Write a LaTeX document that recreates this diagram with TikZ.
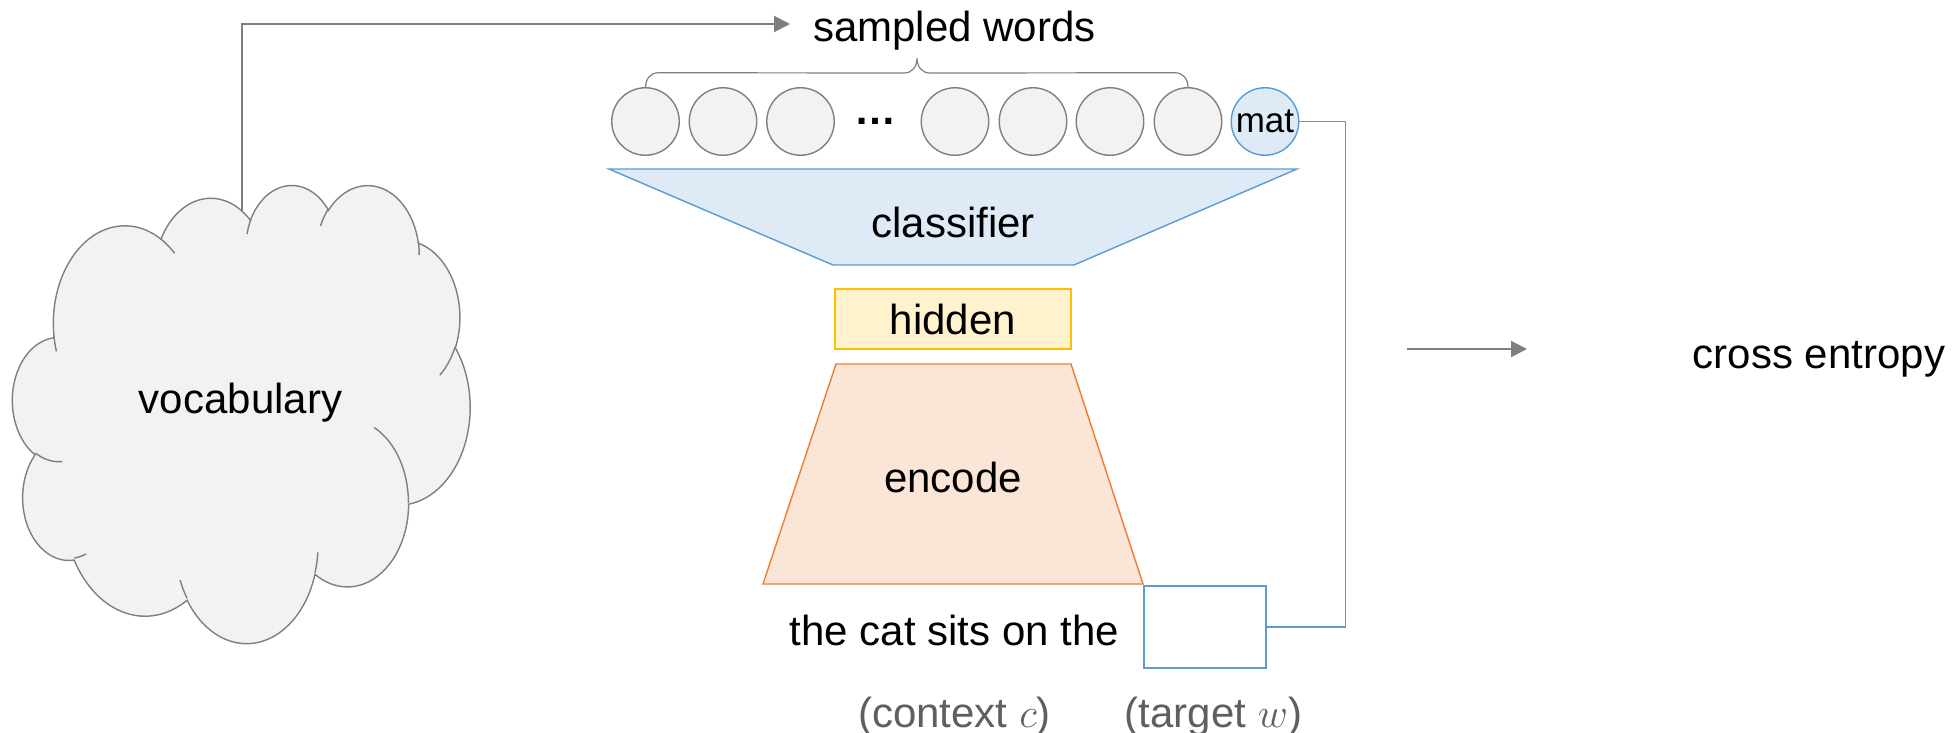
\documentclass[tikz,border=0pt]{standalone}
\usepackage{fontspec}
\setmainfont{Liberation Sans}
\usetikzlibrary{arrows.meta,calc}

\definecolor{linegray}{HTML}{7F7F7F}
\definecolor{shapefill}{HTML}{F2F2F2}
\definecolor{bluefill}{HTML}{DEEBF7}
\definecolor{blueline}{HTML}{5B9BD5}
\definecolor{yellowfill}{HTML}{FFF2CC}
\definecolor{yellowline}{HTML}{FFC000}
\definecolor{orangefill}{HTML}{FBE5D6}
\definecolor{orangeline}{HTML}{ED7D31}
\definecolor{notegray}{HTML}{5F5F5F}

% Cloud outline arcs are given by their visual start angle and sweep on an
% ellipse (wR, hR); convert them to the parametric angles that TikZ's arc uses.
% #1 name, #2 start angle, #3 sweep, #4 x radius, #5 y radius
\newcommand\setcloudarc[5]{%
  \pgfmathsetmacro\cloudts{atan2((#4)*sin(#2),(#5)*cos(#2))}%
  \pgfmathsetmacro\cloudte{atan2((#4)*sin((#2)+(#3)),(#5)*cos((#2)+(#3)))}%
  \pgfmathsetmacro\cloudtd{\cloudte-\cloudts}%
  \pgfmathsetmacro\cloudtd{\cloudtd<0 ? \cloudtd+360 : \cloudtd}%
  \expandafter\xdef\csname ca#1s\endcsname{\cloudts}%
  \expandafter\xdef\csname ca#1d\endcsname{\cloudtd}%
}

\begin{document}
\begin{tikzpicture}[x=0.5pt,y=-0.5pt,
  every node/.style={font=\fontsize{21pt}{25pt}\selectfont, inner sep=0pt, outer sep=0pt},
  lbl/.style={anchor=base},
  wordball/.style={circle, draw=linegray, fill=shapefill, line width=0.7pt, minimum size=33.75pt},
  matball/.style={circle, draw=blueline, fill=bluefill, line width=0.7pt, minimum size=33.75pt,
                  font=\fontsize{17.5pt}{20pt}\selectfont},
  grayarrow/.style={draw=linegray, line width=1.1pt, -{Triangle[length=8pt,width=8pt]}},
  cloudline/.style={draw=linegray, line width=0.7pt},
  blueconn/.style={draw=blueline, line width=0.7pt},
]
\useasboundingbox (0,0) rectangle (1959,733);

% outline of the cloud
\setcloudarc{A}{-190.4875}{123.7805}{67.53}{91.90}
\setcloudarc{B}{-144.1024}{89.9452}{53.33}{72.67}
\setcloudarc{C}{-145.8079}{99.7230}{43.65}{59.45}
\setcloudarc{D}{-130.9861}{117.2417}{48.57}{65.95}
\setcloudarc{E}{-78.7089}{109.0269}{53.33}{72.73}
\setcloudarc{F}{-46.2673}{130.2690}{67.75}{92.20}
\setcloudarc{G}{0.6250}{114.0333}{57.85}{78.67}
\setcloudarc{H}{22.4516}{115.1726}{67.52}{92.15}
\setcloudarc{I}{66.2426}{75.7110}{77.20}{105.43}
\setcloudarc{J}{-274.9421}{146.7356}{43.60}{59.18}
\setcloudarc{K}{-246.8285}{152.5189}{43.45}{59.45}
% inner folds of the cloud
\setcloudarc{L}{86.7420}{26.4295}{43.45}{59.45}
\setcloudarc{M}{73.6105}{11.4475}{43.60}{59.18}
\setcloudarc{N}{137.6242}{14.0811}{67.52}{92.15}
\setcloudarc{O}{6.4533}{15.9984}{67.52}{92.15}
\setcloudarc{P}{-70.2924}{70.9174}{57.85}{78.67}
\setcloudarc{Q}{30.3180}{27.7515}{53.33}{72.73}
\setcloudarc{R}{-13.7443}{14.8589}{48.57}{65.95}
\setcloudarc{S}{-149.1815}{18.1954}{48.57}{65.95}
\setcloudarc{T}{-163.4943}{17.6864}{43.65}{59.45}
\setcloudarc{U}{-66.7070}{12.3194}{67.53}{91.90}
\setcloudarc{V}{157.6544}{11.8582}{67.53}{91.90}

% sampling arrow from the vocabulary to the sampled words
\coordinate (vocabtop) at (241.7,214);
\coordinate (wordsin) at (790,24);
\draw[grayarrow] (vocabtop) |- (wordsin);

% vocabulary cloud
\begin{scope}[shift={(12.7,184)}, x=0.52928pt, y=-0.53009pt]
  \filldraw[cloudline, fill=shapefill] (39.00,143.70)
    arc[start angle=\caAs, delta angle=\caAd, x radius=67.53, y radius=91.90]
    arc[start angle=\caBs, delta angle=\caBd, x radius=53.33, y radius=72.67]
    arc[start angle=\caCs, delta angle=\caCd, x radius=43.65, y radius=59.45]
    arc[start angle=\caDs, delta angle=\caDd, x radius=48.57, y radius=65.95]
    arc[start angle=\caEs, delta angle=\caEd, x radius=53.33, y radius=72.73]
    arc[start angle=\caFs, delta angle=\caFd, x radius=67.75, y radius=92.20]
    arc[start angle=\caGs, delta angle=\caGd, x radius=57.85, y radius=78.67]
    arc[start angle=\caHs, delta angle=\caHd, x radius=67.52, y radius=92.15]
    arc[start angle=\caIs, delta angle=\caId, x radius=77.20, y radius=105.43]
    arc[start angle=\caJs, delta angle=\caJd, x radius=43.60, y radius=59.18]
    arc[start angle=\caKs, delta angle=\caKd, x radius=43.45, y radius=59.45]
    -- cycle;
  \draw[cloudline]
    (46.93,261.77)  arc[start angle=\caLs, delta angle=\caLd, x radius=43.45, y radius=59.45]
    (69.28,348.99)  arc[start angle=\caMs, delta angle=\caMd, x radius=43.60, y radius=59.18]
    (164.78,390.90) arc[start angle=\caNs, delta angle=\caNd, x radius=67.52, y radius=92.15]
    (288.27,347.51) arc[start angle=\caOs, delta angle=\caOd, x radius=67.52, y radius=92.15]
    (341.29,229.54) arc[start angle=\caPs, delta angle=\caPd, x radius=57.85, y radius=78.67]
    (417.98,153.54) arc[start angle=\caQs, delta angle=\caQd, x radius=53.33, y radius=72.73]
    (383.24,54.26)  arc[start angle=\caRs, delta angle=\caRd, x radius=48.57, y radius=65.95]
    (290.78,39.52)  arc[start angle=\caSs, delta angle=\caSd, x radius=48.57, y radius=65.95]
    (221.41,47.20)  arc[start angle=\caTs, delta angle=\caTd, x radius=43.65, y radius=59.45]
    (140.00,51.92)  arc[start angle=\caUs, delta angle=\caUd, x radius=67.53, y radius=91.90]
    (41.27,157.89)  arc[start angle=\caVs, delta angle=\caVd, x radius=67.53, y radius=91.90];
\end{scope}
\node[lbl] (vocab) at (240.5,413) {vocabulary};

% sampled words
\node[lbl] (words) at (954.5,42) {sampled words};
\node[wordball] (w1) at (645.5,121.5) {};
\node[wordball] (w2) at (723,121.5) {};
\node[wordball] (w3) at (800.5,121.5) {};
\node[lbl, font=\fontsize{21pt}{25pt}\selectfont\bfseries] (dots) at (875,125) {…};
\node[wordball] (w4) at (955,121.5) {};
\node[wordball] (w5) at (1033,121.5) {};
\node[wordball] (w6) at (1110,121.5) {};
\node[wordball] (w7) at (1188,121.5) {};
\node[matball] (mat) at (1265,121.5) {mat};

% curly brace over the sampled words
\coordinate (bracetip) at (917,58);
\draw[linegray, line width=0.6pt]
  (w1.north) .. controls +(0,-9) and +(-8,0) .. ($(w1.north)+(13,-15)$)
  -- ($(bracetip)+(-13,15)$) .. controls +(8,0) and +(0,9) .. (bracetip)
  .. controls +(0,9) and +(-8,0) .. ($(bracetip)+(13,15)$)
  -- ($(w7.north)+(-13,-15)$) .. controls +(8,0) and +(0,-9) .. (w7.north);

% classifier
\filldraw[draw=blueline, fill=bluefill, line width=0.7pt]
  (609,169) -- (1297,169) -- (1074,265) -- (833,265) -- cycle;
\node[lbl] (classifier) at (953,237) {classifier};

% hidden state
\node[draw=yellowline, fill=yellowfill, line width=0.7pt,
      minimum width=118pt, minimum height=30pt] (hidden) at (953,319) {hidden};

% encoder
\filldraw[draw=orangeline, fill=orangefill, line width=0.7pt]
  (836,364) -- (1071,364) -- (1143,584) -- (763,584) -- cycle;
\node[lbl] (encode) at (953,492) {encode};

% input sentence and target slot
\node[lbl] (context) at (954.5,645) {the cat sits on the};
\node[draw=blueline, fill=white, line width=0.7pt,
      minimum width=61pt, minimum height=41pt] (target) at (1205,627) {};
\draw[blueconn] (mat.east) -- ++(47,0) |- (target.east);

\node[lbl, text=notegray] (ctxnote) at (954.5,727) {(context $c$)};
\node[lbl, text=notegray] (tgtnote) at (1213.5,727) {(target $w$)};

% loss
\coordinate (lossfrom) at (1407,349);
\coordinate (lossto) at (1527,349);
\draw[grayarrow] (lossfrom) -- (lossto);
\node[lbl] (loss) at (1819,368) {cross entropy};
\end{tikzpicture}
\end{document}
